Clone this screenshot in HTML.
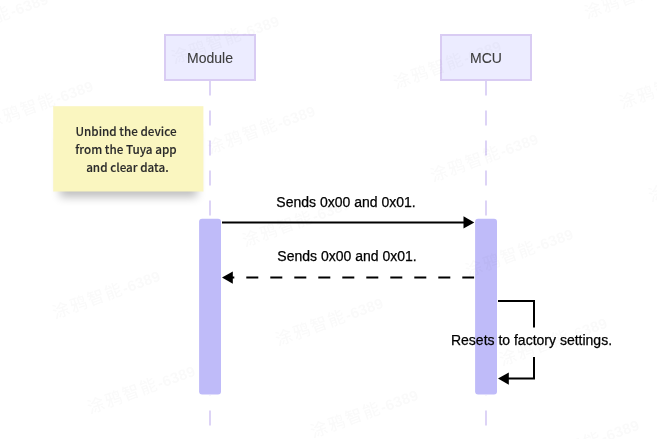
<!DOCTYPE html>
<html>
<head>
<meta charset="utf-8">
<title>Sequence diagram</title>
<style>
  html, body { margin: 0; padding: 0; background: #ffffff; }
  body { width: 657px; height: 439px; overflow: hidden; position: relative; font-family: "Liberation Sans", "Noto Sans CJK SC", sans-serif; }
  svg { position: absolute; left: 0; top: 0; display: block; will-change: transform; }
  .actor { fill: #ececff; stroke: #d9ccf3; stroke-width: 2; }
  .actor-text { font-size: 14px; fill: #3d3d3d; stroke: #3d3d3d; stroke-width: 0.1; text-anchor: middle; }
  .life { stroke: #dcd2f6; stroke-width: 1.9; stroke-dasharray: 15 15; fill: none; }
  .act { fill: #bfbbf9; }
  .actbg { fill: #ffffff; }
  .ln { stroke: #000; stroke-width: 2; fill: none; }
  .msg { font-size: 14px; fill: #000; stroke: #000; stroke-width: 0.25; text-anchor: middle; }
  .note-text { font-family: "Noto Sans CJK SC", "Liberation Sans", sans-serif; font-size: 11.7px; font-weight: 500; fill: #2a2a2a; stroke: #2a2a2a; stroke-width: 0.12; text-anchor: middle; }
  .wm { font-family: "Liberation Sans", "Noto Sans CJK SC", sans-serif; font-size: 17px; font-weight: 500; letter-spacing: 1.5px; fill: #000; opacity: 0.021; }
  .wm tspan { font-size: 15px; font-weight: bold; letter-spacing: 0.2px; }
</style>
</head>
<body>
<svg width="657" height="439" viewBox="0 0 657 439">
  <defs>
    <filter id="sh" x="-20%" y="-20%" width="140%" height="160%">
      <feGaussianBlur stdDeviation="5"/>
    </filter>
  </defs>
  <rect x="0" y="0" width="657" height="439" fill="#ffffff"/>

  <!-- note shadow -->
  <rect x="60" y="130" width="137" height="67" fill="#000" opacity="0.26" filter="url(#sh)"/>

  <!-- lifelines -->
  <line class="life" x1="210" y1="80.4" x2="210" y2="439"/>
  <line class="life" x1="486" y1="80.4" x2="486" y2="439"/>

  <!-- actors -->
  <rect class="actor" x="165" y="35" width="90" height="45"/>
  <text class="actor-text" x="210" y="62.9">Module</text>
  <rect class="actor" x="441" y="35" width="90" height="45"/>
  <text class="actor-text" x="486" y="62.9">MCU</text>

  <!-- note -->
  <rect x="53.2" y="106.2" width="150.2" height="85.3" fill="#faf6c0"/>
  <text class="note-text" x="126" y="136">Unbind the device</text>
  <text class="note-text" x="126" y="154">from the Tuya app</text>
  <text class="note-text" x="127.4" y="172">and clear data.</text>

  <!-- messages -->
  <line class="ln" x1="222" y1="222.4" x2="466" y2="222.4"/>
  <polygon points="463.5,216.2 474.3,222.4 463.5,228.6" fill="#000"/>
  <text class="msg" x="346" y="206.5">Sends 0x00 and 0x01.</text>

  <line class="ln" x1="474.3" y1="277.6" x2="232" y2="277.6" stroke-dasharray="12 12"/>
  <polygon points="232.8,271.4 222,277.6 232.8,283.8" fill="#000"/>
  <text class="msg" x="347" y="261.4">Sends 0x00 and 0x01.</text>

  <polyline class="ln" points="498,300.9 534,300.9 534,378.6 508,378.6"/>
  <polygon points="508.8,372.4 498,378.6 508.8,384.8" fill="#000"/>
  <rect x="446" y="327.5" width="170" height="29.5" fill="#ffffff"/>

  <!-- activations -->
  <rect class="actbg" x="198.3" y="217.9" width="23.5" height="177.6" rx="3.6"/>
  <rect class="actbg" x="474.3" y="217.9" width="23.5" height="177.6" rx="3.6"/>
  <rect class="act" x="199.1" y="218.7" width="21.9" height="175.9" rx="3"/>
  <rect class="act" x="475.1" y="218.7" width="21.9" height="175.9" rx="3"/>
  <text class="msg" x="531.5" y="345">Resets to factory settings.</text>

  <!-- watermark -->
  <g class="wm">
    <text transform="translate(174,64) rotate(-20)">涂鸦智能<tspan>-6389</tspan></text>
    <text transform="translate(396,89) rotate(-20)">涂鸦智能<tspan>-6389</tspan></text>
    <text transform="translate(587,19) rotate(-20)">涂鸦智能<tspan>-6389</tspan></text>
    <text transform="translate(622,109) rotate(-20)">涂鸦智能<tspan>-6389</tspan></text>
    <text transform="translate(210,154) rotate(-20)">涂鸦智能<tspan>-6389</tspan></text>
    <text transform="translate(433,182) rotate(-20)">涂鸦智能<tspan>-6389</tspan></text>
    <text transform="translate(-12,129) rotate(-20)">涂鸦智能<tspan>-6389</tspan></text>
    <text transform="translate(-57,42) rotate(-20)">涂鸦智能<tspan>-6389</tspan></text>
    <text transform="translate(245,247) rotate(-20)">涂鸦智能<tspan>-6389</tspan></text>
    <text transform="translate(468,277) rotate(-20)">涂鸦智能<tspan>-6389</tspan></text>
    <text transform="translate(651,202) rotate(-20)">涂鸦智能<tspan>-6389</tspan></text>
    <text transform="translate(55,319) rotate(-20)">涂鸦智能<tspan>-6389</tspan></text>
    <text transform="translate(278,346) rotate(-20)">涂鸦智能<tspan>-6389</tspan></text>
    <text transform="translate(502,366) rotate(-20)">涂鸦智能<tspan>-6389</tspan></text>
    <text transform="translate(90,414) rotate(-20)">涂鸦智能<tspan>-6389</tspan></text>
    <text transform="translate(313,438) rotate(-20)">涂鸦智能<tspan>-6389</tspan></text>
    <text transform="translate(534,468) rotate(-20)">涂鸦智能<tspan>-6389</tspan></text>
  </g>
</svg>
</body>
</html>
